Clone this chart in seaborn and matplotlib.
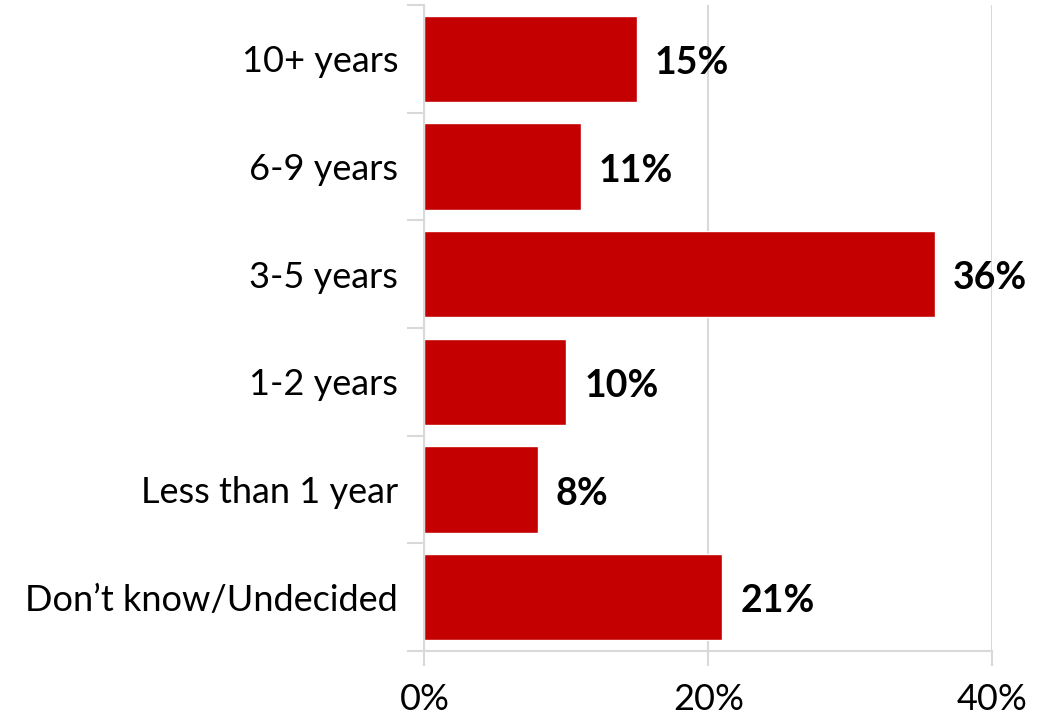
import matplotlib
matplotlib.use("Agg")
import matplotlib.pyplot as plt
from matplotlib.ticker import FixedLocator, PercentFormatter
import seaborn as sns
import pandas as pd

categories = ["10+ years", "6-9 years", "3-5 years", "1-2 years",
              "Less than 1 year", "Don\u2019t know/Undecided"]
shares = [0.15, 0.11, 0.36, 0.10, 0.08, 0.21]
value_labels = ["15%", "11%", "36%", "10%", "8%", "21%"]

data = pd.DataFrame({"category": categories, "share": shares})

sns.set_style("white")
plt.rcParams["font.family"] = ["Lato", "DejaVu Sans"]
plt.rcParams["text.color"] = "black"

fig = plt.figure(figsize=(10.51, 7.15), dpi=100)
ax = fig.add_axes([0.4039, 0.0895, 0.5400, 0.9035])

sns.barplot(data=data, x="share", y="category", color="#C40000",
            saturation=1, width=0.8, ax=ax)

grid_col = "#D9D9D9"
ax.set_xlim(0, 0.40)
ax.set_ylim(len(categories) - 0.5, -0.5)
ax.xaxis.set_major_locator(FixedLocator([0, 0.2, 0.4]))
ax.xaxis.set_major_formatter(PercentFormatter(1.0, decimals=0))
ax.grid(axis="x", color=grid_col, linewidth=1.5)
ax.set_axisbelow(True)

for s in ["top", "right"]:
    ax.spines[s].set_visible(False)
ax.spines["left"].set_color(grid_col)
ax.spines["left"].set_linewidth(1.5)
ax.spines["bottom"].set_color(grid_col)
ax.spines["bottom"].set_linewidth(1.5)

# category boundary ticks on the y axis
ax.yaxis.set_minor_locator(FixedLocator([i - 0.5 for i in range(len(categories) + 1)]))
ax.tick_params(axis="y", which="major", length=0, pad=19, labelsize=26,
               labelcolor="black")
ax.tick_params(axis="y", which="minor", length=12, width=1.5, color=grid_col, left=True)
ax.tick_params(axis="x", which="major", length=11, width=1.5, color=grid_col,
               bottom=True, pad=12, labelsize=26, labelcolor="black")
ax.set_xlabel("")
ax.set_ylabel("")

for i, (v, lab) in enumerate(zip(shares, value_labels)):
    ax.text(v + 0.0125, i + 0.04, lab, ha="left", va="center",
            fontsize=27, fontweight="bold", color="black")

plt.savefig("out.png", dpi=100)
